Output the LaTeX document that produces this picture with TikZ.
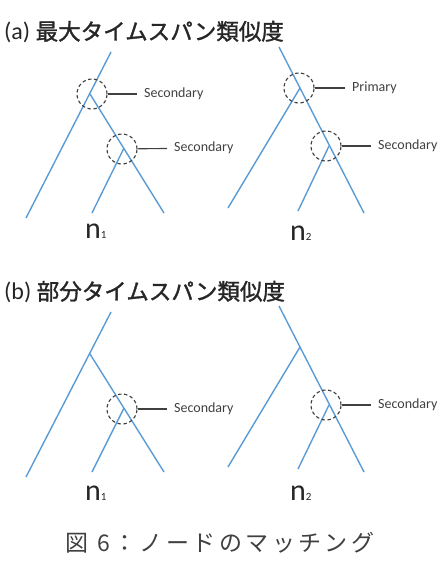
\documentclass[tikz,border=0pt]{standalone}
\usepackage{fontspec}
\setmainfont{Carlito}
\newfontfamily\jpfont{Noto Sans CJK JP}[FakeBold=1.4]
\newfontfamily\capfont{Noto Sans CJK JP}[LetterSpace=15]
\usetikzlibrary{positioning}

\definecolor{branchblue}{RGB}{91,155,213}
\definecolor{markgray}{RGB}{64,64,64}

\tikzset{
  branch/.style={branchblue, line width=1.4pt},
  matchcirc/.style={draw=markgray, circle, line width=1.1pt, dash pattern=on 3.5pt off 2.5pt, minimum size=30pt, inner sep=0pt},
  tagtext/.style={anchor=west, inner sep=0pt, inner xsep=7pt, text=markgray, font=\fontsize{14}{16}\selectfont},
  leader/.style={markgray, line width=1.1pt},
  leaflabel/.style={anchor=base west, inner sep=0pt, text=black!85, font=\fontsize{30}{32}\selectfont},
  headline/.style={anchor=west, inner sep=0pt, text=black!85, font=\fontsize{24}{28}\selectfont},
}
\newcommand{\jptitle}[1]{{\jpfont\fontsize{22.5}{28}\selectfont #1}}

\begin{document}
\begin{tikzpicture}[x=1pt, y=-1pt]
  \useasboundingbox (0,0) rectangle (446,566);

  % (a) maximum time-span
  \node[headline] (ta) at (4,32) {(a) \jptitle{最大タイムスパン類似度}};

  % n1
  \coordinate (a1top) at (111,52);
  \coordinate (a1bl) at (26,218);
  \coordinate (a1j1) at (90,94);
  \coordinate (a1br) at (164,213);
  \coordinate (a1j2) at (124,148);
  \coordinate (a1bm) at (92,213);
  \draw[branch] (a1top) -- (a1bl);
  \draw[branch] (a1j1) -- (a1br);
  \draw[branch] (a1j2) -- (a1bm);
  \node[matchcirc] (a1c1) at (92,94) {};
  \node[matchcirc] (a1c2) at (122,149) {};
  \node[tagtext] (a1s1) at (137,94) {Secondary};
  \node[tagtext] (a1s2) at (167,148) {Secondary};
  \draw[leader] (a1c1) -- (a1s1);
  \draw[leader] (a1c2) -- (a1s2);
  \node[leaflabel] (a1n) at (85,238) {n{\fontsize{11}{11}\selectfont 1}};

  % n2
  \coordinate (a2top) at (279,47);
  \coordinate (a2br) at (364,213);
  \coordinate (a2j1) at (300,88);
  \coordinate (a2bl) at (228,208);
  \coordinate (a2j2) at (329,146);
  \coordinate (a2bm) at (298,211);
  \draw[branch] (a2top) -- (a2br);
  \draw[branch] (a2j1) -- (a2bl);
  \draw[branch] (a2j2) -- (a2bm);
  \node[matchcirc] (a2c1) at (299,88) {};
  \node[matchcirc] (a2c2) at (326,146) {};
  \node[tagtext] (a2s1) at (345,88) {Primary};
  \node[tagtext] (a2s2) at (371,146) {Secondary};
  \draw[leader] (a2c1) -- (a2s1);
  \draw[leader] (a2c2) -- (a2s2);
  \node[leaflabel] (a2n) at (290,240) {n{\fontsize{11}{11}\selectfont 2}};

  % (b) partial time-span
  \node[headline] (tb) at (4,292) {(b) \jptitle{部分タイムスパン類似度}};

  % n1
  \coordinate (b1top) at (111,312);
  \coordinate (b1bl) at (26,477);
  \coordinate (b1j1) at (90,354);
  \coordinate (b1br) at (164,472);
  \coordinate (b1j2) at (124,408);
  \coordinate (b1bm) at (92,472);
  \draw[branch] (b1top) -- (b1bl);
  \draw[branch] (b1j1) -- (b1br);
  \draw[branch] (b1j2) -- (b1bm);
  \node[matchcirc] (b1c) at (122,409) {};
  \node[tagtext] (b1s) at (167,409) {Secondary};
  \draw[leader] (b1c) -- (b1s);
  \node[leaflabel] (b1n) at (85,500) {n{\fontsize{11}{11}\selectfont 1}};

  % n2
  \coordinate (b2top) at (279,306);
  \coordinate (b2br) at (364,472);
  \coordinate (b2j1) at (300,347);
  \coordinate (b2bl) at (228,467);
  \coordinate (b2j2) at (329,405);
  \coordinate (b2bm) at (298,469);
  \draw[branch] (b2top) -- (b2br);
  \draw[branch] (b2j1) -- (b2bl);
  \draw[branch] (b2j2) -- (b2bm);
  \node[matchcirc] (b2c) at (326,405) {};
  \node[tagtext] (b2s) at (371,405) {Secondary};
  \draw[leader] (b2c) -- (b2s);
  \node[leaflabel] (b2n) at (290,500) {n{\fontsize{11}{11}\selectfont 2}};

  % caption
  \node[inner sep=0pt, text=black!75, font=\capfont\fontsize{23}{26}\selectfont] (cap) at (220,543) {図 6：ノードのマッチング};
\end{tikzpicture}
\end{document}
